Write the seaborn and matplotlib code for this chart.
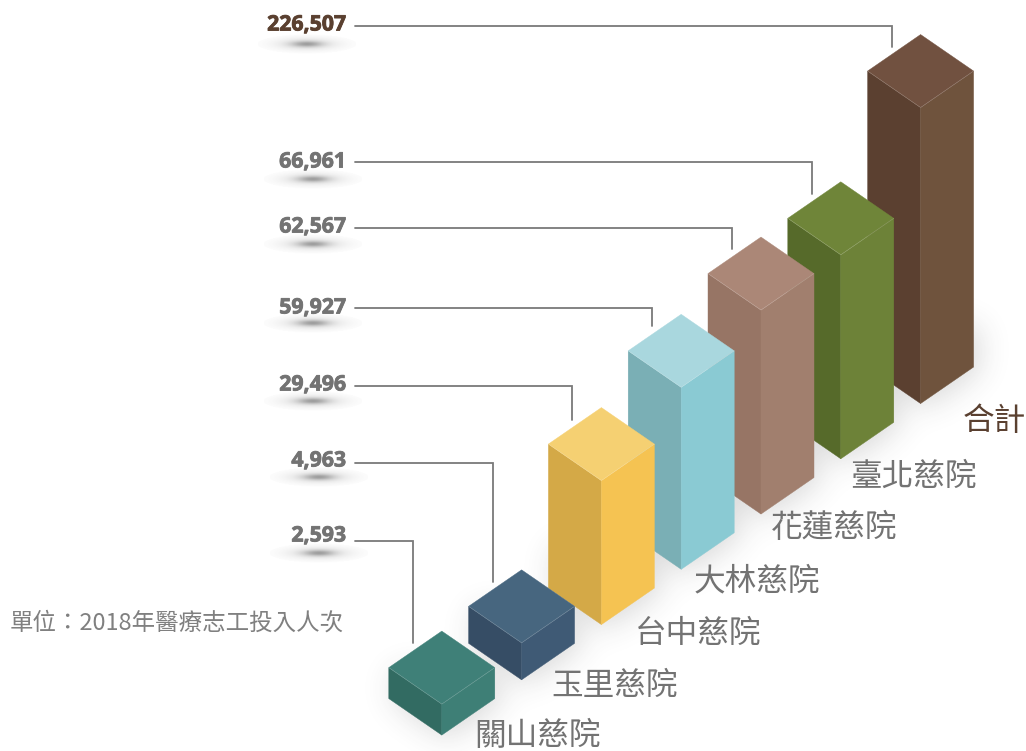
import numpy as np
import seaborn as sns
import matplotlib.pyplot as plt
import matplotlib.patheffects as pe
from matplotlib.path import Path
from matplotlib.transforms import Affine2D

categories = ['關山慈院', '玉里慈院', '台中慈院', '大林慈院', '花蓮慈院', '臺北慈院', '合計']
values = [2593, 4963, 29496, 59927, 62567, 66961, 226507]
# drawn height of every column, the artwork is not to scale with values
bar_heights = [31, 37, 144, 182, 204, 204, 296]
unit_note = '單位：2018年醫療志工投入人次'

left_colors = ['#326b62', '#364d65', '#d4a947', '#7aafb5', '#977565', '#566a2a', '#5b4030']
right_colors = ['#3e7f76', '#3f5a75', '#f5c352', '#8acad3', '#a17f6e', '#6d8238', '#6f533d']
top_colors = ['#3f8078', '#47667f', '#f5d072', '#a9d7de', '#ab8777', '#6f8539', '#715140']

# layout, in picture pixels
W, H = 1026, 751
HALF_W, HALF_D = 53, 36.5
FRONT_X0, FRONT_DX = 441.8, 79.8
FRONT_Y0, FRONT_DY = 735.1, -55.26
ROW_Y = [541, 463, 386, 308, 228, 162, 26]
VALUE_Y = [536, 461, 385, 308, 227, 162, 25]
SHADOW_Y = [553, 477, 401, 323, 244, 179, 44]
NAME_X = [474, 551, 635, 694, 771, 850, 963]
NAME_Y = [736, 686, 634, 581, 528, 477, 421]

sns.set_theme(style='white')
plt.rcParams['font.family'] = ['Noto Sans CJK TC', 'DejaVu Sans']


def front_vertex(i):
    return FRONT_X0 + FRONT_DX * i, FRONT_Y0 + FRONT_DY * i


def face_transform(face, i, h):
    '''Maps a seaborn bar (i-.5..i+.5, 0..h) on to one face of the column.'''
    fx, fy = front_vertex(i)
    shift = 0.5 - i
    if face == 'left':
        m = [[HALF_W, 0, fx - HALF_W + HALF_W * shift],
             [HALF_D, -1, fy - HALF_D + HALF_D * shift], [0, 0, 1]]
    elif face == 'right':
        m = [[HALF_W, 0, fx + HALF_W * shift],
             [-HALF_D, -1, fy - HALF_D * shift], [0, 0, 1]]
    else:
        m = [[HALF_W, HALF_W / h, fx - HALF_W + HALF_W * shift],
             [HALF_D, -HALF_D / h, fy - h - HALF_D + HALF_D * shift], [0, 0, 1]]
    return Affine2D(np.array(m, dtype=float))


def blur(img, sigma):
    r = int(sigma * 3)
    k = np.exp(-0.5 * (np.arange(-r, r + 1) / sigma) ** 2)
    k /= k.sum()
    img = np.apply_along_axis(lambda v: np.convolve(v, k, mode='same'), 0, img)
    return np.apply_along_axis(lambda v: np.convolve(v, k, mode='same'), 1, img)


def ground_shadow():
    '''Soft shadow around the feet of the columns.'''
    gx, gy = np.meshgrid(np.arange(W), np.arange(H))
    pts = np.column_stack([gx.ravel(), gy.ravel()])
    mask = np.zeros(W * H, dtype=bool)
    for i in range(len(categories)):
        fx, fy = front_vertex(i)
        fx, fy = fx + 5, fy + 3
        lift = min(bar_heights[i], 45)
        poly = Path([(fx - HALF_W, fy - HALF_D), (fx, fy), (fx + HALF_W, fy - HALF_D),
                     (fx + HALF_W, fy - HALF_D - lift), (fx - HALF_W, fy - HALF_D - lift)])
        mask |= poly.contains_points(pts)
    alpha = blur(mask.reshape(H, W).astype(float), 15) * 0.2
    rgba = np.zeros((H, W, 4))
    rgba[..., :3] = 0.25
    rgba[..., 3] = alpha
    return rgba


def label_shadow(ax, cx, cy):
    gx, gy = np.meshgrid(np.linspace(-1, 1, 120), np.linspace(-1, 1, 30))
    d = np.sqrt(gx ** 2 + gy ** 2)
    rgba = np.zeros((30, 120, 4))
    rgba[..., :3] = 0.35
    rgba[..., 3] = (0.4 * np.exp(-(d / 0.3) ** 2) + 0.2 * np.exp(-(d / 0.65) ** 2)) * (d < 1)
    ax.imshow(rgba, extent=(cx - 50, cx + 50, cy + 10, cy - 10), aspect='auto', zorder=1)


fig = plt.figure(figsize=(W / 100, H / 100), dpi=100)
ax = fig.add_axes([0, 0, 1, 1])

for face, colors in [('left', left_colors), ('right', right_colors), ('top', top_colors)]:
    start = len(ax.patches)
    sns.barplot(x=categories, y=bar_heights, hue=categories, palette=colors,
                width=1, saturation=1, legend=False, ax=ax, linewidth=0)
    for patch in ax.patches[start:]:
        i = int(round(patch.get_x() + patch.get_width() / 2))
        patch.set_transform(face_transform(face, i, bar_heights[i]) + ax.transData)
        patch.set_zorder(20 - 2 * i)
        # hide the hairline between the faces
        patch.set_edgecolor(colors[i])
        patch.set_linewidth(0.3)
        patch.set_clip_on(False)

ax.set_xlim(0, W)
ax.set_ylim(H, 0)
ax.set_autoscale_on(False)

ax.imshow(ground_shadow(), extent=(0, W, H, 0), aspect='auto', zorder=0)

for i, (value, h) in enumerate(zip(values, bar_heights)):
    fx, fy = front_vertex(i)
    top_y = fy - h
    # light seam round the front of the lid
    ax.plot([fx - HALF_W, fx, fx + HALF_W], [top_y - HALF_D, top_y, top_y - HALF_D],
            color='white', lw=0.4, alpha=0.25, zorder=21 - 2 * i)
    # leader from the number to the lid
    drop_x = fx - 29
    drop_y = top_y - 2 * HALF_D + 29 * HALF_D / HALF_W - 8
    ax.plot([355, drop_x, drop_x], [ROW_Y[i], ROW_Y[i], drop_y], color='#7a7a7a', lw=1.3,
            solid_joinstyle='miter', zorder=2)
    last = i == len(values) - 1
    value_color = '#5a4030' if last else '#737373'
    t = ax.text(346, VALUE_Y[i], f'{value:,}', ha='right', va='center', fontsize=15.3,
                family='Open Sans', fontweight='bold', color=value_color, zorder=3,
                path_effects=[pe.withStroke(linewidth=0.6, foreground=value_color)])
    box = t.get_window_extent(fig.canvas.get_renderer())
    label_shadow(ax, (box.x0 + box.x1) / 2, SHADOW_Y[i])
    ax.text(NAME_X[i], NAME_Y[i], categories[i], ha='left', va='center', fontsize=22.8,
            color='#5a4030' if last else '#737373', zorder=30)

ax.text(10, 623, unit_note, ha='left', va='center', fontsize=16.9, color='#808080', zorder=3)

ax.set_axis_off()
fig.savefig('out.png', dpi=100)
